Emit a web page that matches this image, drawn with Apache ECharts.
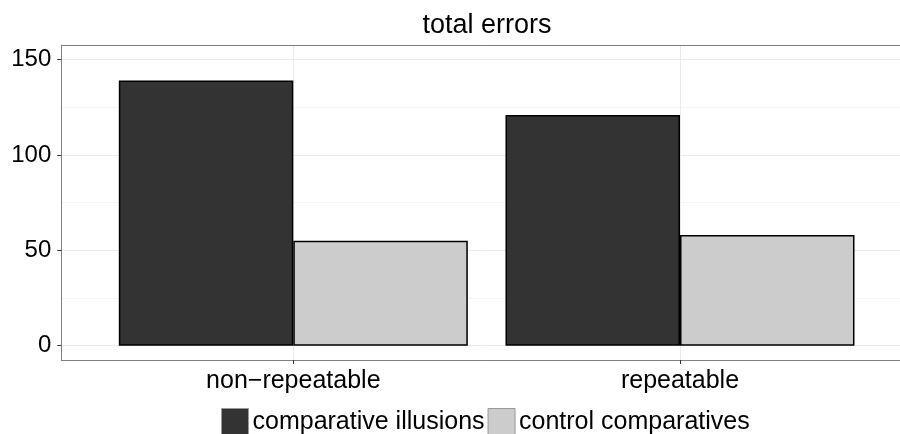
<!DOCTYPE html>
<html>
<head>
<meta charset="utf-8">
<script src="https://cdn.jsdelivr.net/npm/echarts@6/dist/echarts.min.js"></script>
<style>html,body{margin:0;padding:0;background:#fff}#c{width:900px;height:434px}</style>
</head>
<body>
<div id="c"></div>
<script>
const categories = ['non\u2212repeatable', 'repeatable'];
const seriesNames = ['comparative illusions', 'control comparatives'];
const illusions = [139, 121];
const controls = [55, 58];
const yTicks = [0, 50, 100, 150];
const yMinorTicks = [25, 75, 125];
const title = 'total errors';

const FONT = '"Liberation Sans", Arial, Helvetica, sans-serif';
const catPos = categories.map((c, i) => i + 1);
const toData = arr => arr.map((v, i) => [catPos[i], v]);
const border = {show: true, onZero: false, lineStyle: {color: '#7f7f7f', width: 1}};

const chart = echarts.init(document.getElementById('c'), null, {renderer: 'canvas'});
chart.setOption({
  animation: false,
  backgroundColor: '#fff',
  textStyle: {fontFamily: FONT},
  title: {
    text: title, left: 487, top: 12, padding: 0, textAlign: 'center',
    textStyle: {fontSize: 27, fontWeight: 'normal', color: '#000', fontFamily: FONT}
  },
  legend: {
    data: seriesNames, top: 408, left: 221, padding: 0,
    icon: 'rect', itemWidth: 27, itemHeight: 27, itemGap: 3,
    itemStyle: {borderColor: '#999', borderWidth: 1},
    textStyle: {fontSize: 25, color: '#000', fontFamily: FONT, padding: [0, 0, 0, -1]}
  },
  grid: {
    left: 61.3, top: 45.3, height: 314.7, width: 850.7,
    outerBoundsMode: 'none', containLabel: false, show: false
  },
  xAxis: [{
    type: 'value', min: 0.4, max: 2.6, position: 'bottom',
    axisLine: border,
    axisTick: {show: true, customValues: catPos, length: 4, lineStyle: {color: '#333', width: 1}},
    axisLabel: {customValues: catPos, formatter: v => categories[Math.round(v) - 1],
      fontSize: 25, color: '#000', margin: 9, fontFamily: FONT},
    splitLine: {show: true, lineStyle: {color: '#ebebeb', width: 1}}
  }, {
    type: 'value', min: 0.4, max: 2.6, position: 'top',
    axisLine: border, axisTick: {show: false}, axisLabel: {show: false}, splitLine: {show: false}
  }],
  yAxis: [{
    type: 'value', min: -7.5, max: 157.5, position: 'left',
    axisLine: border,
    axisTick: {show: true, customValues: yTicks, length: 4, lineStyle: {color: '#333', width: 1}},
    axisLabel: {customValues: yTicks, fontSize: 24, color: '#000', margin: 10, fontFamily: FONT},
    splitLine: {show: true, lineStyle: {color: '#ebebeb', width: 1}}
  }, {
    type: 'value', min: -7.5, max: 157.5, position: 'left',
    axisLine: {show: false},
    axisTick: {show: false, customValues: yMinorTicks},
    axisLabel: {show: false, customValues: yMinorTicks},
    splitLine: {show: true, lineStyle: {color: '#f5f5f5', width: 1}}
  }],
  series: [{
    name: seriesNames[0], type: 'bar', data: toData(illusions),
    barWidth: 174.5, barGap: '0%',
    itemStyle: {color: '#333333', borderColor: '#000', borderWidth: 1.5}
  }, {
    name: seriesNames[1], type: 'bar', data: toData(controls),
    barWidth: 174.5, barGap: '0%',
    itemStyle: {color: '#cccccc', borderColor: '#000', borderWidth: 1.5}
  }]
});
</script>
</body>
</html>
